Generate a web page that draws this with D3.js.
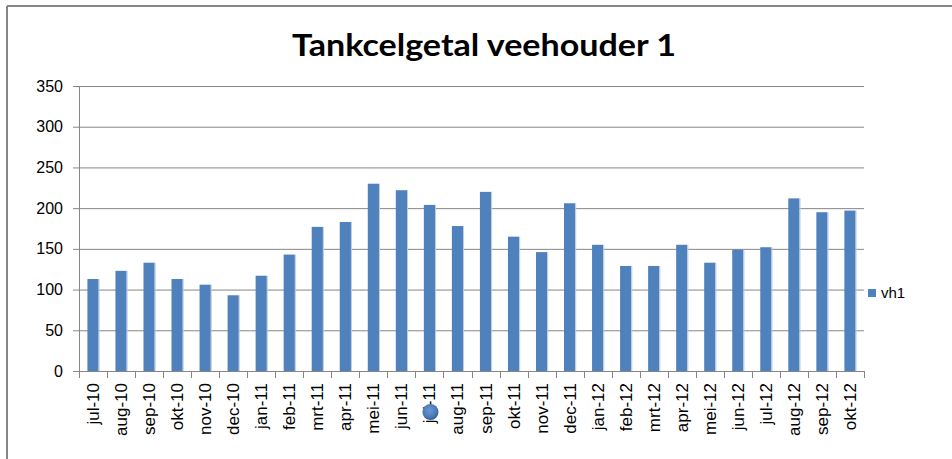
<!DOCTYPE html>
<html>
<head>
<meta charset="utf-8">
<script src="https://cdn.jsdelivr.net/npm/d3@7"></script>
<style>
  html, body { margin: 0; padding: 0; background: #fff; }
  svg { display: block; }
</style>
</head>
<body>
<svg id="chart" width="952" height="459"></svg>
<script>
// Monthly bulk-milk somatic cell count for farmer 1
const months = [
  "jul-10", "aug-10", "sep-10", "okt-10", "nov-10", "dec-10",
  "jan-11", "feb-11", "mrt-11", "apr-11", "mei-11", "jun-11",
  "jul-11", "aug-11", "sep-11", "okt-11", "nov-11", "dec-11",
  "jan-12", "feb-12", "mrt-12", "apr-12", "mei-12", "jun-12",
  "jul-12", "aug-12", "sep-12", "okt-12"
];
const vh1 = [
  113, 123, 133, 113, 106, 93,
  117, 143, 177, 183, 230, 222,
  204, 178, 220, 165, 146, 206,
  155, 129, 129, 155, 133, 149,
  152, 212, 195, 197
];
const yTicks = [0, 50, 100, 150, 200, 250, 300, 350];
const seriesName = "vh1";
const chartTitle = "Tankcelgetal veehouder 1";

const svg = d3.select("#chart");
const W = 952, H = 459;
const plot = { left: 79, right: 864, top: 86, bottom: 371 };
const barColor = "#4F81BD";
const gridColor = "#868686";

// Chart-area border (top and left edges)
svg.append("line").attr("x1", 7).attr("x2", W).attr("y1", 6).attr("y2", 6)
  .attr("stroke", "#868686").attr("stroke-width", 2);
svg.append("line").attr("x1", 7).attr("x2", 7).attr("y1", 6).attr("y2", H)
  .attr("stroke", "#868686").attr("stroke-width", 2);

// Title
svg.append("text")
  .attr("x", 484).attr("y", 56)
  .attr("text-anchor", "middle")
  .attr("font-family", "Lato, 'Open Sans', sans-serif")
  .attr("font-weight", "bold")
  .attr("font-size", 31)
  .attr("fill", "#000")
  .attr("textLength", 384).attr("lengthAdjust", "spacingAndGlyphs")
  .text(chartTitle);

const x = d3.scaleBand().domain(months).range([plot.left, plot.right]).paddingInner(0.6).paddingOuter(0.3);
const xb = d3.scaleBand().domain(months).range([plot.left, plot.right]);
const y = d3.scaleLinear().domain([0, 350]).range([plot.bottom, plot.top]);

// Value axis
const yAxis = d3.axisLeft(y).tickValues(yTicks).tickSize(6).tickPadding(10);
const gy = svg.append("g").attr("transform", `translate(${plot.left},0)`).call(yAxis);
gy.select(".domain").attr("stroke", gridColor);
gy.selectAll(".tick line").attr("stroke", gridColor);
gy.selectAll(".tick text")
  .attr("font-family", "'Liberation Sans', Arial, sans-serif")
  .attr("font-size", 16).attr("fill", "#000");

// Horizontal gridlines
svg.append("g").selectAll("line.grid")
  .data(yTicks.filter(d => d > 0))
  .join("line")
  .attr("x1", plot.left).attr("x2", plot.right)
  .attr("y1", d => y(d) + 0.5).attr("y2", d => y(d) + 0.5)
  .attr("stroke", gridColor).attr("stroke-width", 1);

// Bars
const bars = svg.append("g");
bars.selectAll("rect.bar")
  .data(vh1)
  .join("rect")
  .attr("x", (d, i) => x(months[i]))
  .attr("y", d => y(d))
  .attr("width", x.bandwidth())
  .attr("height", d => plot.bottom - y(d))
  .attr("fill", barColor);
// light edge on the right side of each bar
bars.selectAll("line.edge")
  .data(vh1)
  .join("line")
  .attr("x1", (d, i) => x(months[i]) + x.bandwidth() + 0.5)
  .attr("x2", (d, i) => x(months[i]) + x.bandwidth() + 0.5)
  .attr("y1", d => y(d))
  .attr("y2", plot.bottom)
  .attr("stroke", "#B9CDE5").attr("stroke-width", 1);

// Category axis
svg.append("line")
  .attr("x1", plot.left).attr("x2", plot.right)
  .attr("y1", plot.bottom + 0.5).attr("y2", plot.bottom + 0.5)
  .attr("stroke", gridColor);
const edges = months.map(m => xb(m)).concat([plot.right]);
svg.append("g").selectAll("line")
  .data(edges)
  .join("line")
  .attr("x1", d => Math.round(d) + 0.5).attr("x2", d => Math.round(d) + 0.5)
  .attr("y1", plot.bottom).attr("y2", plot.bottom + 7)
  .attr("stroke", gridColor);

svg.append("g").selectAll("text")
  .data(months)
  .join("text")
  .attr("transform", d => `translate(${xb(d) + xb.bandwidth() / 2 + 6},383) rotate(-90)`)
  .attr("text-anchor", "end")
  .attr("font-family", "'Liberation Sans', Arial, sans-serif")
  .attr("font-size", 17)
  .attr("fill", "#000")
  .text(d => d);

// Stray round marker over the jul-11 label
const defs = svg.append("defs");
const grad = defs.append("radialGradient").attr("id", "dot").attr("cx", "45%").attr("cy", "40%").attr("r", "60%");
grad.append("stop").attr("offset", "0%").attr("stop-color", "#6C98D0");
grad.append("stop").attr("offset", "70%").attr("stop-color", "#4A7BB9");
grad.append("stop").attr("offset", "100%").attr("stop-color", "#2F5A8E");
svg.append("circle")
  .attr("cx", xb("jul-11") + xb.bandwidth() / 2 + 1)
  .attr("cy", 412)
  .attr("r", 8)
  .attr("fill", "url(#dot)");

// Legend
const lg = svg.append("g").attr("transform", "translate(868,289)");
lg.append("rect").attr("width", 8).attr("height", 8).attr("fill", barColor);
lg.append("text").attr("x", 13).attr("y", 9)
  .attr("font-family", "'Liberation Sans', Arial, sans-serif")
  .attr("font-size", 15).attr("fill", "#000")
  .text(seriesName);
</script>
</body>
</html>
